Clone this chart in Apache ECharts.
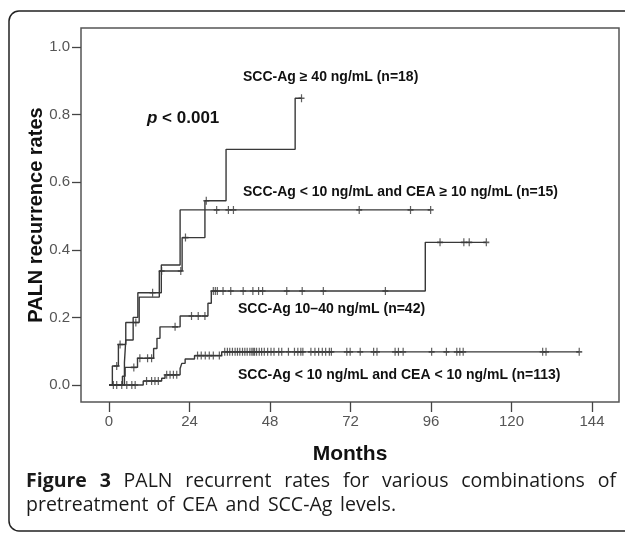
<!DOCTYPE html>
<html>
<head>
<meta charset="utf-8">
<script src="https://cdn.jsdelivr.net/npm/echarts@6/dist/echarts.min.js"></script>
<style>
  html, body { margin: 0; padding: 0; background: #fff; }
  #chart { width: 625px; height: 534px; }
</style>
</head>
<body>
<div id="chart"></div>
<script>
// ---- tick labels ----
const xTicks = [0, 24, 48, 72, 96, 120, 144];
const yTicks = [0, 0.2, 0.4, 0.6, 0.8, 1.0];

// ---- SCC-Ag >= 40 ng/mL (n=18) ----
const g40Times = [0, 1.0, 2.8, 5.0, 9.0, 15.0, 21.8, 28.6, 34.9, 55.5, 57.4];
const g40Rates = [0, 0.056, 0.12, 0.185, 0.26, 0.337, 0.436, 0.545, 0.697, 0.848, 0.848];
const g40Censored = [2.3, 3.3, 8.0, 15.7, 21.4, 22.8, 29.0, 57.4];

// ---- SCC-Ag < 10 and CEA >= 10 ng/mL (n=15) ----
const ceaTimes = [0, 4.6, 5.0, 7.2, 8.6, 15.6, 21.2, 95.9];
const ceaRates = [0, 0.067, 0.133, 0.2, 0.273, 0.355, 0.518, 0.518];
const ceaCensored = [13.0, 32.1, 35.6, 37.1, 74.6, 89.9, 95.9];

// ---- SCC-Ag 10–40 ng/mL (n=42) ----
const midTimes = [0, 4.0, 4.8, 8.5, 13.3, 14.3, 15.2, 21.2, 29.5, 30.5, 94.3, 112.5];
const midRates = [0, 0.026, 0.052, 0.079, 0.108, 0.138, 0.172, 0.204, 0.242, 0.278, 0.422, 0.422];
const midCensored = [7.4, 9.2, 11.5, 12.7, 19.7, 24.6, 26.6, 28.6, 31.1, 31.7, 32.3, 34.0, 36.3, 40.0,
  42.9, 44.6, 45.8, 53.0, 57.6, 63.9, 82.4, 98.7, 105.8, 107.4, 112.5];

// ---- SCC-Ag < 10 and CEA < 10 ng/mL (n=113) ----
const lowTimes = [0, 10.2, 15.7, 16.7, 21.2, 21.7, 22.7, 25.5, 33.6, 140.2];
const lowRates = [0, 0.012, 0.02, 0.03, 0.049, 0.064, 0.077, 0.087, 0.098, 0.098];
const lowCensored = [1.3, 2.3, 3.8, 5.3, 6.8, 7.8, 11.2, 12.7, 13.7, 14.7, 17.2, 18.2, 19.2, 20.2,
  26.4, 27.5, 28.7, 29.9, 31.1, 32.9, 34.5, 35.3, 36, 36.8, 37.6, 38.3, 39, 39.8, 40.5, 41.2, 42,
  42.6, 43, 43.4, 44, 44.8, 45.5, 46.3, 47.3, 48.3, 49.2, 50.6, 51.5, 53.5, 55.3, 56.3, 57.2, 57.8,
  60.2, 61.4, 62.5, 63.6, 64.6, 65.7, 66.3, 70.9, 71.9, 74.9, 78.9, 79.9, 85.3, 86.3, 87.7, 96.2,
  100.6, 103.7, 104.6, 105.6, 129.3, 130.3, 140.2];

// ---- texts ----
const yTitle = 'PALN recurrence rates';
const xTitle = 'Months';
const pText = '< 0.001';
const lab18 = 'SCC-Ag \u2265 40 ng/mL (n=18)';
const lab15 = 'SCC-Ag < 10 ng/mL and CEA \u2265 10 ng/mL (n=15)';
const lab42 = 'SCC-Ag 10\u201340 ng/mL (n=42)';
const lab113 = 'SCC-Ag < 10 ng/mL and CEA < 10 ng/mL (n=113)';
const captionBold = ['Figure', '3'];
const captionLine1 = 'PALN recurrent rates for various combinations of';
const captionLine2 = 'pretreatment of CEA and SCC-Ag levels.';

const ARIAL = '"Liberation Sans", Arial, sans-serif';
const CAP = '"Open Sans", "Noto Sans", sans-serif';
const LINE = '#383838';

function pairs(times, rates) { return times.map((t, i) => [t, rates[i]]); }
function levelAt(times, rates, t) {
  let v = rates[0];
  for (let i = 0; i < times.length; i++) { if (times[i] <= t) v = rates[i]; }
  return v;
}
function censorPts(cens, times, rates) { return cens.map(t => [t, levelAt(times, rates, t)]); }

const plusSym = 'path://M4,0 H6 V4 H10 V6 H6 V10 H4 V6 H0 V4 H4 Z';

const groups = [
  [g40Times, g40Rates, g40Censored],
  [ceaTimes, ceaRates, ceaCensored],
  [midTimes, midRates, midCensored],
  [lowTimes, lowRates, lowCensored]
];
const series = [];
groups.forEach(g => {
  series.push({
    type: 'line', step: 'end', data: pairs(g[0], g[1]), showSymbol: false,
    lineStyle: { color: LINE, width: 1.4 }, silent: true, z: 2
  });
  series.push({
    type: 'scatter', data: censorPts(g[2], g[0], g[1]), symbol: plusSym, symbolSize: [6, 8],
    itemStyle: { color: LINE }, silent: true, z: 3
  });
});

// caption layout (word placement for justified text)
const mctx = document.createElement('canvas').getContext('2d');
function tw(text, font) { mctx.font = font; return mctx.measureText(text).width; }
const capSize = 19.5;
const fBold = 'bold ' + capSize + 'px ' + CAP;
const fNorm = capSize + 'px ' + CAP;
const capGraphics = [];
(function () {
  const words1 = captionBold.map(w => ({ t: w, f: fBold })).concat(
    captionLine1.split(' ').map(w => ({ t: w, f: fNorm })));
  const x0 = 26, x1 = 616;
  let total = 0;
  words1.forEach(w => { w.w = tw(w.t, w.f); total += w.w; });
  const gap = (x1 - x0 - total) / (words1.length - 1);
  let x = x0;
  words1.forEach(w => {
    capGraphics.push({ type: 'text', x: x, y: 481, style: { text: w.t, font: w.f, fill: '#1a1a1a', verticalAlign: 'middle' } });
    x += w.w + gap;
  });
  const words2 = captionLine2.split(' ').map(w => ({ t: w, f: fNorm }));
  let tot2 = 0;
  words2.forEach(w => { w.w = tw(w.t, w.f); tot2 += w.w; });
  const gap2 = Math.max(tw(' ', fNorm), (396 - x0 - tot2) / (words2.length - 1));
  x = x0;
  words2.forEach(w => {
    capGraphics.push({ type: 'text', x: x, y: 505, style: { text: w.t, font: w.f, fill: '#1a1a1a', verticalAlign: 'middle' } });
    x += w.w + gap2;
  });
})();

const chart = echarts.init(document.getElementById('chart'), null, { renderer: 'canvas' });
chart.setOption({
  animation: false,
  backgroundColor: '#fff',
  grid: { left: 81, right: 6, top: 28, bottom: 132, show: true, borderColor: '#555', borderWidth: 1.5, backgroundColor: 'transparent' },
  xAxis: {
    type: 'value', min: -8.35, max: 152.06,
    name: xTitle, nameLocation: 'middle', nameGap: 42,
    nameTextStyle: { fontFamily: ARIAL, fontWeight: 'bold', fontSize: 21, color: '#111' },
    axisLine: { show: false, onZero: false },
    axisTick: { show: true, length: 10, customValues: xTicks, lineStyle: { color: '#444', width: 1.3 } },
    axisLabel: { customValues: xTicks, margin: 12, fontFamily: ARIAL, fontSize: 15, color: '#555' },
    splitLine: { show: false }
  },
  yAxis: {
    type: 'value', min: -0.0503, max: 1.056,
    name: yTitle, nameLocation: 'middle', nameGap: 35, nameRotate: 90, nameMoveOverlap: false,
    nameTextStyle: { fontFamily: ARIAL, fontWeight: 'bold', fontSize: 20, color: '#111' },
    axisLine: { show: false, onZero: false },
    axisTick: { show: true, length: 9, customValues: yTicks, lineStyle: { color: '#444', width: 1.3 } },
    axisLabel: { customValues: yTicks, margin: 11, fontFamily: ARIAL, fontSize: 15, color: '#555',
      formatter: v => v.toFixed(1) },
    splitLine: { show: false }
  },
  series: series,
  graphic: [
    { type: 'rect', shape: { x: 9, y: 11, width: 640, height: 520, r: 10 }, style: { fill: 'none', stroke: '#222', lineWidth: 1.5 }, silent: true },
    { type: 'text', x: 147, y: 118, style: { text: '{i|p} ' + pText, rich: { i: { font: 'italic bold 17px ' + ARIAL, fill: '#111' } }, font: 'bold 17px ' + ARIAL, fill: '#111', verticalAlign: 'middle' } },
    { type: 'text', x: 243, y: 77, style: { text: lab18, font: 'bold 14px ' + ARIAL, fill: '#111', verticalAlign: 'middle' } },
    { type: 'text', x: 243, y: 192, style: { text: lab15, font: 'bold 14px ' + ARIAL, fill: '#111', verticalAlign: 'middle' } },
    { type: 'text', x: 238, y: 309, style: { text: lab42, font: 'bold 14px ' + ARIAL, fill: '#111', verticalAlign: 'middle' } },
    { type: 'text', x: 238, y: 375, style: { text: lab113, font: 'bold 14px ' + ARIAL, fill: '#111', verticalAlign: 'middle' } }
  ].concat(capGraphics)
});
</script>
</body>
</html>
